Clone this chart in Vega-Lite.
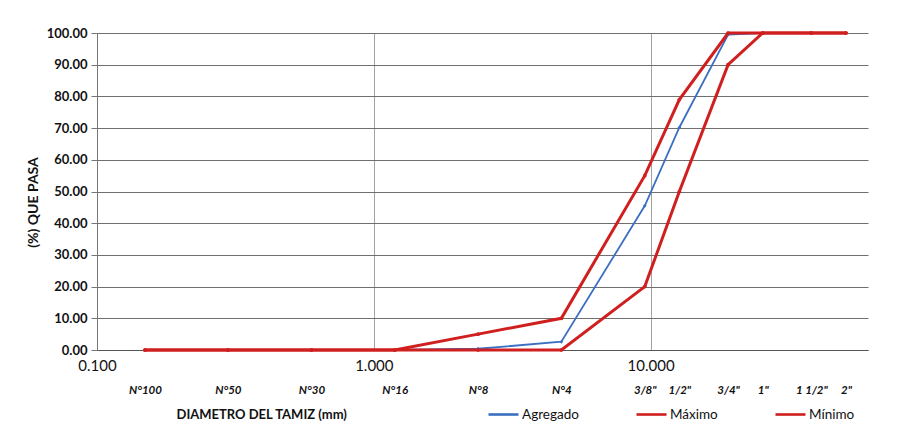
{
  "$schema": "https://vega.github.io/schema/vega-lite/v6.json",
  "width": 771,
  "height": 317,
  "autosize": {"type": "none"},
  "padding": {"left": 97, "top": 33, "right": 33, "bottom": 78},
  "background": "white",
  "config": {
    "font": "Lato",
    "view": {"stroke": null}
  },
  "data": {
    "values": [
      {"tamiz": "N°100", "diametro": 0.149, "serie": "Agregado", "pasa": 0},
      {"tamiz": "N°50", "diametro": 0.297, "serie": "Agregado", "pasa": 0},
      {"tamiz": "N°30", "diametro": 0.595, "serie": "Agregado", "pasa": 0},
      {"tamiz": "N°16", "diametro": 1.19, "serie": "Agregado", "pasa": 0},
      {"tamiz": "N°8", "diametro": 2.38, "serie": "Agregado", "pasa": 0.4},
      {"tamiz": "N°4", "diametro": 4.76, "serie": "Agregado", "pasa": 2.6},
      {"tamiz": "3/8\"", "diametro": 9.525, "serie": "Agregado", "pasa": 45.5},
      {"tamiz": "1/2\"", "diametro": 12.7, "serie": "Agregado", "pasa": 70.2},
      {"tamiz": "3/4\"", "diametro": 19.05, "serie": "Agregado", "pasa": 99.5},
      {"tamiz": "1\"", "diametro": 25.4, "serie": "Agregado", "pasa": 100},
      {"tamiz": "1 1/2\"", "diametro": 38.1, "serie": "Agregado", "pasa": 100},
      {"tamiz": "2\"", "diametro": 50.8, "serie": "Agregado", "pasa": 100},
      {"tamiz": "N°100", "diametro": 0.149, "serie": "Máximo", "pasa": 0},
      {"tamiz": "N°50", "diametro": 0.297, "serie": "Máximo", "pasa": 0},
      {"tamiz": "N°30", "diametro": 0.595, "serie": "Máximo", "pasa": 0},
      {"tamiz": "N°16", "diametro": 1.19, "serie": "Máximo", "pasa": 0},
      {"tamiz": "N°8", "diametro": 2.38, "serie": "Máximo", "pasa": 5},
      {"tamiz": "N°4", "diametro": 4.76, "serie": "Máximo", "pasa": 10},
      {"tamiz": "3/8\"", "diametro": 9.525, "serie": "Máximo", "pasa": 55},
      {"tamiz": "1/2\"", "diametro": 12.7, "serie": "Máximo", "pasa": 79},
      {"tamiz": "3/4\"", "diametro": 19.05, "serie": "Máximo", "pasa": 100},
      {"tamiz": "1\"", "diametro": 25.4, "serie": "Máximo", "pasa": 100},
      {"tamiz": "1 1/2\"", "diametro": 38.1, "serie": "Máximo", "pasa": 100},
      {"tamiz": "2\"", "diametro": 50.8, "serie": "Máximo", "pasa": 100},
      {"tamiz": "N°100", "diametro": 0.149, "serie": "Mínimo", "pasa": 0},
      {"tamiz": "N°50", "diametro": 0.297, "serie": "Mínimo", "pasa": 0},
      {"tamiz": "N°30", "diametro": 0.595, "serie": "Mínimo", "pasa": 0},
      {"tamiz": "N°16", "diametro": 1.19, "serie": "Mínimo", "pasa": 0},
      {"tamiz": "N°8", "diametro": 2.38, "serie": "Mínimo", "pasa": 0},
      {"tamiz": "N°4", "diametro": 4.76, "serie": "Mínimo", "pasa": 0},
      {"tamiz": "3/8\"", "diametro": 9.525, "serie": "Mínimo", "pasa": 20},
      {"tamiz": "1/2\"", "diametro": 12.7, "serie": "Mínimo", "pasa": 50},
      {"tamiz": "3/4\"", "diametro": 19.05, "serie": "Mínimo", "pasa": 90},
      {"tamiz": "1\"", "diametro": 25.4, "serie": "Mínimo", "pasa": 100},
      {"tamiz": "1 1/2\"", "diametro": 38.1, "serie": "Mínimo", "pasa": 100},
      {"tamiz": "2\"", "diametro": 50.8, "serie": "Mínimo", "pasa": 100}
    ]
  },
  "encoding": {
    "x": {
      "field": "diametro",
      "type": "quantitative",
      "scale": {"type": "log", "domain": [0.1, 61], "nice": false},
      "axis": {
        "values": [0.1, 0.149, 0.297, 0.595, 1, 1.19, 2.38, 4.76, 9.525, 10, 12.7, 19.05, 25.4, 38.1, 50.8],
        "labelExpr": "datum.value == 0.1 ? ['0.100', ''] : datum.value == 1 ? ['1.000', ''] : datum.value == 10 ? ['10.000', ''] : ['', {'0.149': 'N°100', '0.297': 'N°50', '0.595': 'N°30', '1.19': 'N°16', '2.38': 'N°8', '4.76': 'N°4', '9.525': '3/8\"', '12.7': '1/2\"', '19.05': '3/4\"', '25.4': '1\"', '38.1': '1 1/2\"', '50.8': '2\"'}[toString(datum.value)]]",
        "labelOverlap": false,
        "labelFlush": false,
        "labelLineHeight": 26,
        "labelPadding": 8,
        "labelBaseline": "top",
        "labelFontSize": {"condition": {"test": "indexof([0.1, 1, 10], datum.value) >= 0", "value": 15}, "value": 11.5},
        "labelFontStyle": {"condition": {"test": "indexof([0.1, 1, 10], datum.value) >= 0", "value": "normal"}, "value": "italic"},
        "labelFontWeight": {"condition": {"test": "indexof([0.1, 1, 10], datum.value) >= 0", "value": "normal"}, "value": "bold"},
        "labelColor": "#111111",
        "grid": true,
        "gridColor": "#8a8a8a",
        "gridWidth": 1,
        "gridOpacity": {"condition": {"test": "indexof([1, 10], datum.value) >= 0", "value": 0.8}, "value": 0},
        "ticks": false,
        "domain": true,
        "domainColor": "#555555",
        "title": "DIAMETRO DEL TAMIZ  (mm)",
        "titleFontSize": 13,
        "titleFontWeight": "bold",
        "titleColor": "#111111",
        "titleAnchor": "start",
        "titleAlign": "left",
        "titleBaseline": "middle",
        "titleX": 79,
        "titleY": 64
      }
    },
    "y": {
      "field": "pasa",
      "type": "quantitative",
      "scale": {"domain": [0, 100], "nice": false},
      "axis": {
        "values": [0, 10, 20, 30, 40, 50, 60, 70, 80, 90, 100],
        "format": ".2f",
        "labelFontSize": 13,
        "labelFontWeight": "bold",
        "labelColor": "#111111",
        "labelPadding": 4,
        "tickSize": 6,
        "tickColor": "#777777",
        "grid": true,
        "gridColor": "#6f6f6f",
        "gridWidth": 1,
        "domainColor": "#777777",
        "title": "(%) QUE PASA",
        "titleFontSize": 14,
        "titleFontWeight": "bold",
        "titleColor": "#111111",
        "titleAngle": -90,
        "titleAlign": "center",
        "titleBaseline": "middle",
        "titleX": -64,
        "titleY": 169
      }
    },
    "color": {
      "field": "serie",
      "type": "nominal",
      "scale": {"domain": ["Agregado", "Máximo", "Mínimo"], "range": ["#3b6fc2", "#d01f1f", "#d01f1f"]},
      "legend": {
        "title": null,
        "orient": "none",
        "direction": "horizontal",
        "legendX": 390,
        "legendY": 365,
        "symbolType": "stroke",
        "symbolSize": 900,
        "symbolStrokeWidth": 2.6,
        "labelFontSize": 13.5,
        "labelColor": "#111111",
        "labelOffset": 2,
        "columnPadding": 52
      }
    },
    "order": {"field": "diametro", "type": "quantitative"}
  },
  "layer": [
    {
      "transform": [{"filter": "datum.serie == 'Agregado'"}],
      "mark": {"type": "line", "strokeWidth": 1.8, "point": {"filled": true, "size": 14, "shape": "diamond"}}
    },
    {
      "transform": [{"filter": "datum.serie != 'Agregado'"}],
      "mark": {"type": "line", "strokeWidth": 3, "point": {"filled": true, "size": 14}}
    }
  ]
}
